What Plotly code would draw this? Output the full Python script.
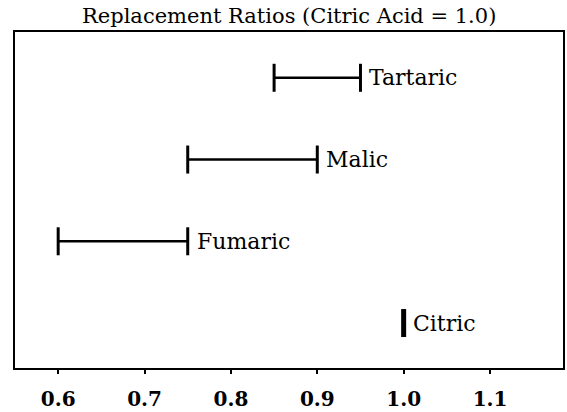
import plotly.graph_objects as go

acids = ["Citric", "Fumaric", "Malic", "Tartaric"]
low = [1.0, 0.60, 0.75, 0.85]
high = [1.0, 0.75, 0.90, 0.95]
tick_vals = [0.6, 0.7, 0.8, 0.9, 1.0, 1.1]
tick_text = ["0.6", "0.7", "0.8", "0.9", "1.0", "1.1"]

FONT = "DejaVu Serif"
fig = go.Figure()

for i, (name, lo, hi) in enumerate(zip(acids, low, high)):
    if lo != hi:
        fig.add_trace(go.Scatter(
            x=[lo, hi], y=[i, i], mode="lines+markers",
            line=dict(color="black", width=2.5),
            marker=dict(symbol="line-ns", size=20, line=dict(color="black", width=3)),
            showlegend=False, hoverinfo="skip"))
    else:
        fig.add_trace(go.Scatter(
            x=[lo], y=[i], mode="markers",
            marker=dict(symbol="line-ns", size=20, line=dict(color="black", width=5)),
            showlegend=False, hoverinfo="skip"))
    fig.add_annotation(x=hi, y=i, text=name, showarrow=False, xanchor="left",
                       yanchor="middle", xshift=7,
                       font=dict(family=FONT, size=22, color="black"))

fig.update_layout(
    width=567, height=412,
    margin=dict(l=15, r=4, t=32, b=44, autoexpand=False),
    paper_bgcolor="white", plot_bgcolor="white",
    title=dict(text="Replacement Ratios (Citric Acid = 1.0)", x=0.51, xanchor="center",
               y=0.963, yanchor="middle",
               font=dict(family=FONT, size=21, color="black")),
    xaxis=dict(range=[0.55, 1.1845], tickvals=tick_vals, ticktext=tick_text,
               showgrid=False, zeroline=False, showline=True, mirror=True,
               linecolor="black", linewidth=2, ticks="outside", ticklen=4,
               tickwidth=1.5, tickcolor="black", ticklabelstandoff=8, automargin=False,
               tickfont=dict(family=FONT, size=20, color="black", weight="bold")),
    yaxis=dict(range=[-0.55, 3.56], showticklabels=False, showgrid=False,
               zeroline=False, showline=True, mirror=True, linecolor="black",
               linewidth=2, ticks="", automargin=False),
)

fig.write_html("out.html", config={"displayModeBar": False},
               post_script="document.body.style.margin='0';document.body.style.overflow='hidden';")
